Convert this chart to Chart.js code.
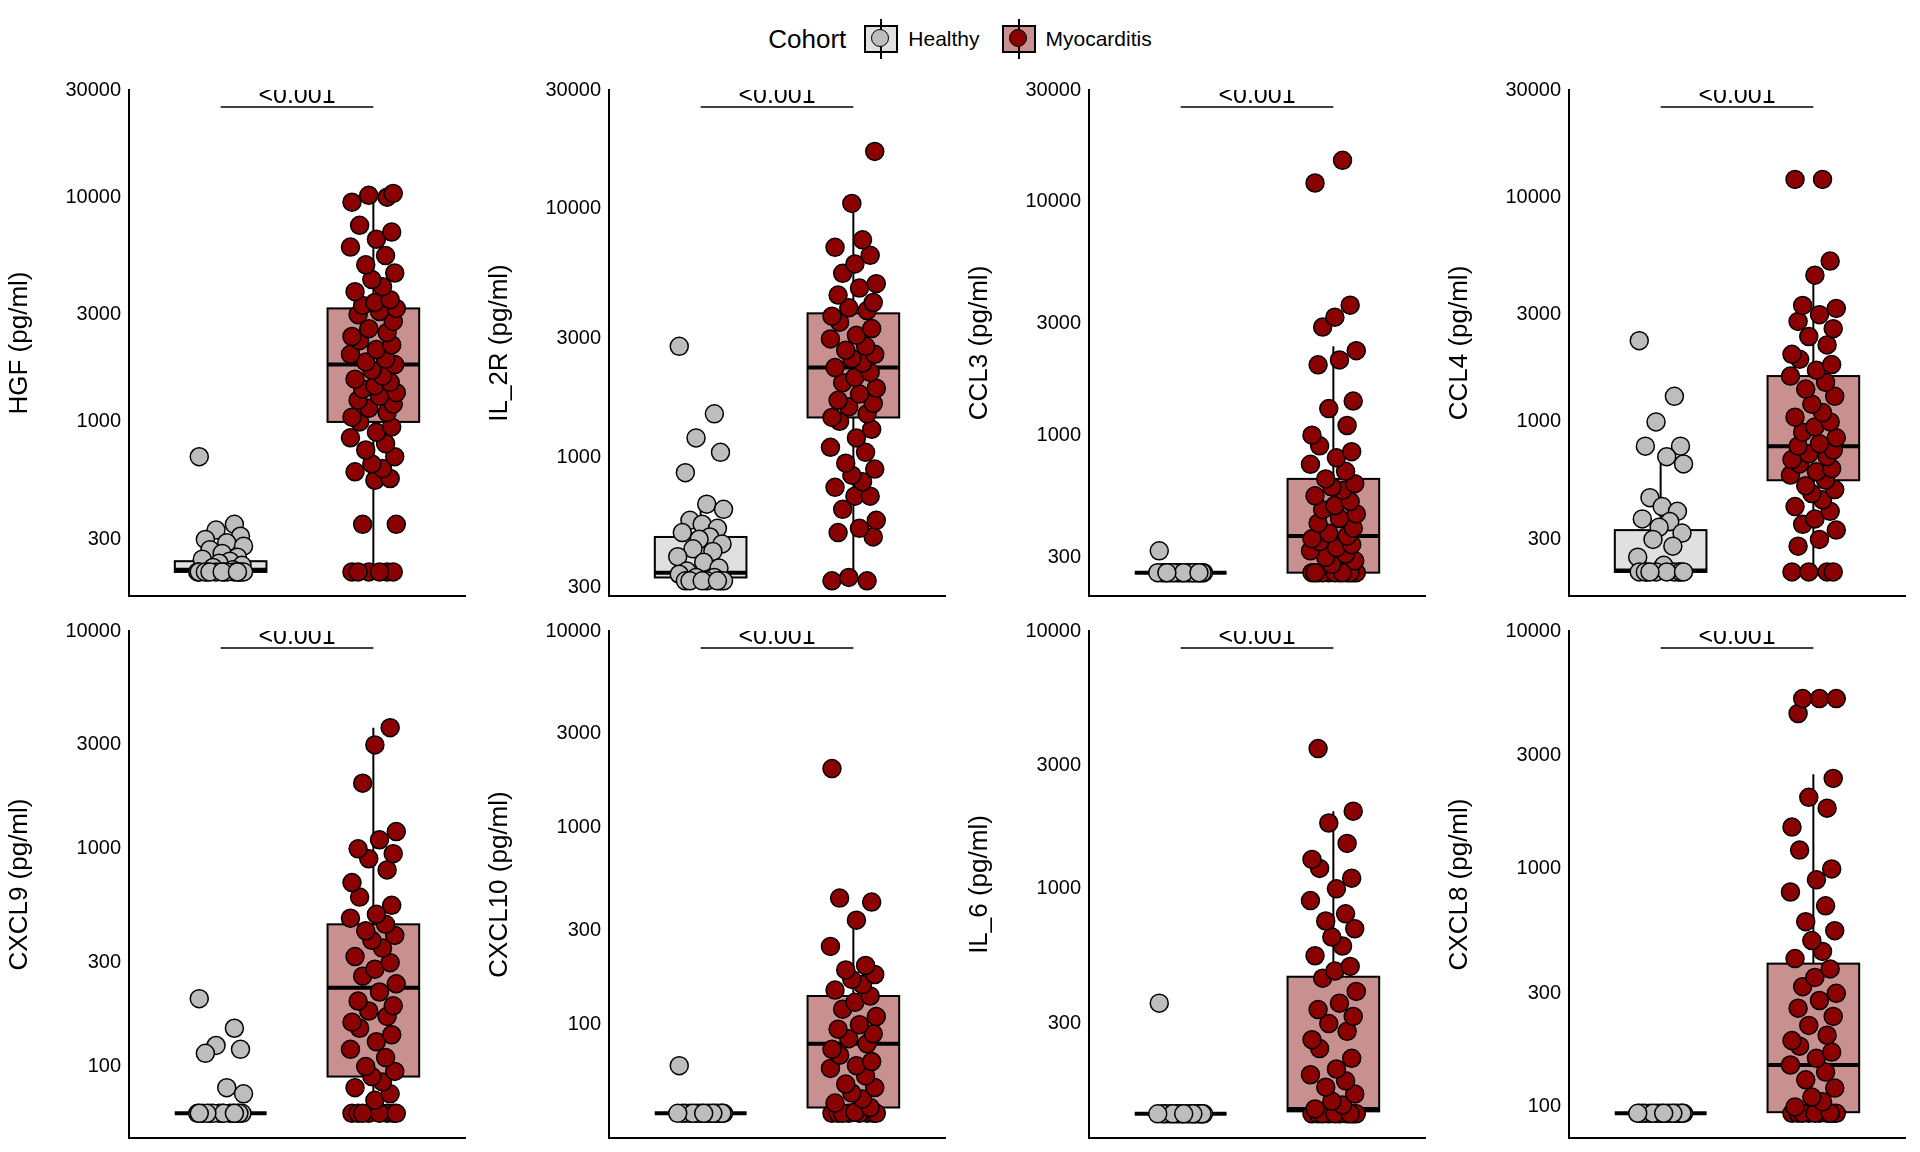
<!DOCTYPE html>
<html><head><meta charset="utf-8">
<script src="https://cdn.jsdelivr.net/npm/chart.js@4"></script>
<style>
body{margin:0;width:1920px;height:1152px;background:#fff;position:relative;font-family:"Liberation Sans",Arial,sans-serif;overflow:hidden}
.pan{position:absolute}
#legend{position:absolute;top:22px;left:0;width:1920px;text-align:center;font-size:26px;color:#000}
#legend span{display:inline-block;vertical-align:middle}
.key{width:30px;height:24px;border:2px solid #000;position:relative;margin:0 10px 0 10px}
.key i{position:absolute;left:5px;top:2px;width:18px;height:18px;border-radius:50%;border:1.5px solid #000;box-sizing:border-box}
.key b{position:absolute;left:14px;top:-8px;width:2px;height:40px;background:#000}
</style></head><body>
<div id="legend"><span style="margin-right:8px">Cohort</span><span class="key" style="background:#e0e0e0"><b></b><i style="background:#bdbdbd"></i></span><span style="font-size:21px;margin-right:12px">Healthy</span><span class="key" style="background:#c99090"><b></b><i style="background:#8b0000"></i></span><span style="font-size:21px">Myocarditis</span></div>
<script>
// ==================== DATOS ====================
const markers = ['HGF','IL_2R','CCL3','CCL4','CXCL9','CXCL10','IL_6','CXCL8'];
const yMin = [168, 278, 205, 168, 47, 26.6, 108, 74];
const yMax = [30000, 30000, 30000, 30000, 10000, 10000, 10000, 10000];
const yTicks = [
  [300,1000,3000,10000,30000],[300,1000,3000,10000,30000],[300,1000,3000,10000,30000],[300,1000,3000,10000,30000],
  [100,300,1000,3000,10000],[100,300,1000,3000,10000],[300,1000,3000,10000],[100,300,1000,3000,10000]
];
// [whisker low, q1, median, q3, whisker high]
const boxHealthy = [
  [215,215,220,240,250],[320,330,345,480,650],[258,258,258,258,258],[215,215,218,330,700],
  [61,61,61,61,61],[35.5,35.5,35.5,35.5,35.5],[134,134,134,134,134],[94,94,94,94,94]
];
const boxMyo = [
  [215,1000,1800,3200,10500],[320,1450,2300,3800,10500],[258,258,370,650,2400],[215,550,780,1600,4700],
  [61,90,230,450,3600],[35.5,38,80,140,340],[134,137,140,456,2000],[94,95,150,400,2500]
];
const ptsHealthy = [
  [700,350,330,310,300,290,280,270,260,250,245,240,235,230,225,220,215,215,215,215,215,215,215,215,215,215,215,215,215,215],
  [2800,1500,1200,1050,870,650,620,560,540,520,500,480,470,450,430,420,400,380,360,350,340,330,330,320,320,320,320,320,320,320],
  [320,258,258,258,258,258,258,258,258,258,258,258,258,258,258,258,258,258,258,258],
  [2300,1300,1000,780,780,700,650,460,420,400,370,360,340,320,300,280,250,230,215,215,215,215,215,215,215,215,215,215],
  [205,150,125,120,115,80,75,61,61,61,61,61,61,61,61,61,61,61,61,61,61,61],
  [62,35.5,35.5,35.5,35.5,35.5,35.5,35.5,35.5,35.5,35.5,35.5,35.5,35.5,35.5,35.5,35.5,35.5],
  [360,134,134,134,134,134,134,134,134,134,134,134,134,134,134,134,134,134],
  [94,94,94,94,94,94,94,94,94,94,94,94,94,94,94,94,94,94]
];
const ptsMyo = [
  [215,215,215,215,215,215,350,350,550,560,600,620,650,700,750,800,850,900,950,1000,1050,1100,1150,1200,1250,1300,1350,1400,1450,1500,1550,1600,1700,1800,1850,1900,2000,2100,2200,2300,2400,2500,2600,2800,3000,3100,3200,3300,3400,3500,3800,4000,4300,4600,5000,5500,6000,6500,7000,7500,9500,10000,10200,10400],
  [320,320,330,480,500,520,560,620,700,700,760,800,850,900,950,1050,1100,1200,1300,1400,1450,1500,1600,1650,1700,1800,1900,2000,2100,2200,2300,2400,2500,2600,2700,2800,3000,3100,3300,3500,3700,3900,4000,4200,4500,4800,5000,5500,6000,6500,7000,7500,10500,17000],
  [258,258,258,258,258,258,258,258,258,258,258,258,280,290,300,310,320,330,340,350,360,370,380,400,420,440,460,480,500,520,550,580,600,620,650,700,750,800,850,900,1000,1100,1300,1400,2000,2100,2300,2900,3200,3600,12000,15000],
  [215,215,215,215,280,300,330,350,370,400,420,450,480,500,520,550,580,600,620,650,680,700,720,750,780,800,850,900,950,1000,1050,1100,1200,1300,1400,1500,1600,1700,1800,1900,2000,2200,2400,2600,2800,3000,3200,3300,4500,5200,12000,12000],
  [61,61,61,61,61,61,61,61,70,75,80,85,90,95,100,110,120,130,140,150,160,170,180,190,200,220,240,260,280,300,320,350,380,400,420,450,480,500,550,600,700,800,900,950,1000,1100,1200,2000,3000,3600],
  [35.5,35.5,35.5,35.5,35.5,35.5,35.5,35.5,36,38,40,42,45,48,50,55,60,62,65,70,75,80,85,90,95,100,110,120,130,140,150,160,170,180,190,200,250,340,420,440,2000],
  [134,134,134,134,134,134,134,134,134,134,140,145,150,160,170,180,190,200,220,240,260,280,300,320,340,360,400,450,480,500,550,600,650,700,750,800,900,1000,1100,1200,1300,1500,1800,2000,3500],
  [94,94,94,94,94,94,94,94,94,94,100,105,110,120,130,140,150,160,170,180,190,200,220,240,260,280,300,320,350,380,420,450,500,550,600,700,800,900,1000,1200,1500,1800,2000,2400,4500,5200,5200,5200]
];
// desplazamientos horizontales fijos (jitter)
const jitter = [-0.14,0.09,-0.03,0.13,-0.1,0.04,0.15,-0.07,0.01,0.11,-0.12,0.06,-0.01,0.14,-0.05,0.08,-0.15,0.02,0.12,-0.09];

// ==================== DIBUJO ====================
const boxPlugin = {
  id: 'boxes',
  beforeDatasetsDraw(chart, args, opts) {
    const { ctx, scales: { x, y } } = chart;
    [[1, opts.h, '#e0e0e0'], [2, opts.m, '#c99090']].forEach(([cx, b, fill]) => {
      const xl = x.getPixelForValue(cx - 0.3), xr = x.getPixelForValue(cx + 0.3), xc = x.getPixelForValue(cx);
      const p = b.map(v => y.getPixelForValue(v));
      ctx.save();
      ctx.strokeStyle = '#000'; ctx.lineWidth = 2;
      ctx.beginPath(); ctx.moveTo(xc, p[0]); ctx.lineTo(xc, p[1]); ctx.moveTo(xc, p[3]); ctx.lineTo(xc, p[4]); ctx.stroke();
      ctx.fillStyle = fill;
      ctx.fillRect(xl, p[3], xr - xl, p[1] - p[3]);
      ctx.strokeRect(xl, p[3], xr - xl, p[1] - p[3]);
      ctx.lineWidth = 4;
      ctx.beginPath(); ctx.moveTo(xl, p[2]); ctx.lineTo(xr, p[2]); ctx.stroke();
      ctx.restore();
    });
  },
  afterDatasetsDraw(chart) {
    const { ctx, chartArea, scales: { x } } = chart;
    const x1 = x.getPixelForValue(1), x2 = x.getPixelForValue(2);
    ctx.save();
    ctx.beginPath(); ctx.rect(0, chartArea.top, chart.width, chartArea.bottom - chartArea.top); ctx.clip();
    ctx.strokeStyle = '#000'; ctx.lineWidth = 1.5;
    ctx.beginPath(); ctx.moveTo(x1, chartArea.top + 17); ctx.lineTo(x2, chartArea.top + 17); ctx.stroke();
    ctx.fillStyle = '#000'; ctx.font = '25px "Liberation Sans", Arial'; ctx.textAlign = 'center';
    ctx.fillText('<0.001', (x1 + x2) / 2, chartArea.top + 13);
    ctx.restore();
  }
};

markers.forEach((m, i) => {
  const top = i < 4;
  const cv = document.createElement('canvas');
  cv.className = 'pan';
  cv.width = 480; cv.height = top ? 610 : 542;
  cv.style.left = (i % 4) * 480 + 'px';
  cv.style.top = (top ? 0 : 610) + 'px';
  document.body.appendChild(cv);
  const toPts = (arr, cx) => arr.map((v, k) => ({ x: cx + jitter[k % jitter.length], y: v }));
  new Chart(cv, {
    type: 'scatter',
    data: {
      datasets: [
        { data: toPts(ptsHealthy[i], 1), backgroundColor: '#bdbdbd', borderColor: '#000', borderWidth: 1.5, pointRadius: 9 },
        { data: toPts(ptsMyo[i], 2), backgroundColor: '#8b0000', borderColor: '#000', borderWidth: 1.5, pointRadius: 9 }
      ]
    },
    options: {
      animation: false, responsive: false,
      layout: { padding: { top: top ? 90 : 21, right: 15 } },
      plugins: { legend: { display: false }, tooltip: { enabled: false }, boxes: { h: boxHealthy[i], m: boxMyo[i] } },
      scales: {
        x: {
          min: 0.4, max: 2.6, grid: { display: false, drawTicks: false },
          border: { color: '#000', width: 2 }, ticks: { display: false },
          afterFit: s => { s.height = 12; }
        },
        y: {
          type: 'logarithmic', min: yMin[i], max: yMax[i],
          grid: { display: false, drawTicks: true, tickLength: 6, tickColor: '#000' },
          border: { color: '#000', width: 2 },
          afterBuildTicks: s => { s.ticks = yTicks[i].map(v => ({ value: v })); },
          ticks: { color: '#000', padding: 2, font: { family: '"Liberation Sans", Arial', size: 20 }, callback: v => String(v) },
          title: { display: true, text: m + ' (pg/ml)', color: '#000', font: { family: '"Liberation Sans", Arial', size: 26 } },
          afterFit: s => { s.width = 129; }
        }
      }
    },
    plugins: [boxPlugin]
  });
});
</script>
</body></html>
